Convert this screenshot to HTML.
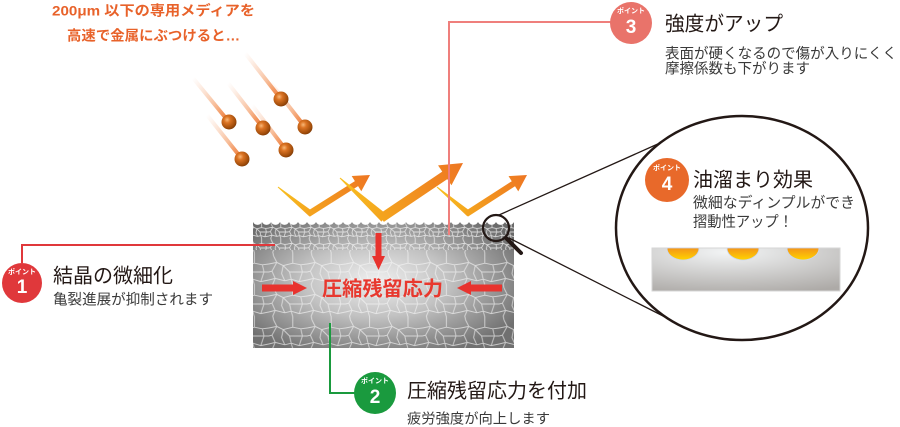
<!DOCTYPE html>
<html><head><meta charset="utf-8">
<style>
html,body{margin:0;padding:0;background:#fff;}
svg{display:block;}
text{font-family:"Liberation Sans","Noto Sans CJK JP",sans-serif;}
</style></head><body>
<svg width="900" height="427" viewBox="0 0 900 427" xmlns="http://www.w3.org/2000/svg">
<defs>
 <radialGradient id="blk" cx="0.47" cy="0.48" r="0.62">
  <stop offset="0" stop-color="#efefef"/>
  <stop offset="0.45" stop-color="#c2c2c2"/>
  <stop offset="1" stop-color="#707070"/>
 </radialGradient>
 <pattern id="cells" width="48" height="40" patternUnits="userSpaceOnUse" patternTransform="scale(0.8)">
  <path d="M0,10 L10,8 L18,12 L30,9 L40,11 L48,10 M0,30 L8,28 L20,31 L28,29 L38,32 L48,30 M18,12 L16,22 L20,31 M40,11 L42,20 L38,32 M18,12 L26,20 L28,29 M26,20 L42,20 M30,0 L30,9 M28,29 L30,36 L30,40 M6,0 L10,8 M8,28 L5,35 L6,40 M0,20 L4,19 L8,28 M42,20 L48,20 M4,19 L10,8" fill="none" stroke="#f6f6f6" stroke-opacity="0.65" stroke-width="1.2"/>
 </pattern>
 <pattern id="fine" width="48" height="40" patternUnits="userSpaceOnUse" patternTransform="scale(0.4)">
  <path d="M0,10 L10,8 L18,12 L30,9 L40,11 L48,10 M0,30 L8,28 L20,31 L28,29 L38,32 L48,30 M18,12 L16,22 L20,31 M40,11 L42,20 L38,32 M18,12 L26,20 L28,29 M26,20 L42,20 M30,0 L30,9 M28,29 L30,36 L30,40 M6,0 L10,8 M8,28 L5,35 L6,40 M0,20 L4,19 L8,28 M42,20 L48,20 M4,19 L10,8" fill="none" stroke="#f4f4f4" stroke-opacity="0.75" stroke-width="2.2"/>
 </pattern>
 <clipPath id="blkclip">
  <path d="M253,348 L253,222 A5,5 0 0 0 262,222 A5,5 0 0 0 271,222 A5,5 0 0 0 280,222 A5,5 0 0 0 289,222 A5,5 0 0 0 298,222 A5,5 0 0 0 307,222 A5,5 0 0 0 316,222 A5,5 0 0 0 325,222 A5,5 0 0 0 334,222 A5,5 0 0 0 343,222 A5,5 0 0 0 352,222 A5,5 0 0 0 361,222 A5,5 0 0 0 370,222 A5,5 0 0 0 379,222 A5,5 0 0 0 388,222 A5,5 0 0 0 397,222 A5,5 0 0 0 406,222 A5,5 0 0 0 415,222 A5,5 0 0 0 424,222 A5,5 0 0 0 433,222 A5,5 0 0 0 442,222 A5,5 0 0 0 451,222 A5,5 0 0 0 460,222 A5,5 0 0 0 469,222 A5,5 0 0 0 478,222 A5,5 0 0 0 487,222 A5,5 0 0 0 496,222 A5,5 0 0 0 505,222 A5,5 0 0 0 514,222 L514,348 Z"/>
 </clipPath>
 <radialGradient id="ball" cx="0.38" cy="0.35" r="0.7">
  <stop offset="0" stop-color="#f8b878"/>
  <stop offset="0.3" stop-color="#dc7424"/>
  <stop offset="0.8" stop-color="#a04c0a"/>
  <stop offset="1" stop-color="#7a3806"/>
 </radialGradient>
 <linearGradient id="trail" x1="0" y1="0" x2="1" y2="1">
  <stop offset="0" stop-color="#f7b08a" stop-opacity="0"/>
  <stop offset="0.6" stop-color="#f18a4a" stop-opacity="0.55"/>
  <stop offset="1" stop-color="#ec6a1e" stop-opacity="1"/>
 </linearGradient>
 <linearGradient id="legA" x1="0" y1="0" x2="1" y2="0">
  <stop offset="0" stop-color="#f8c020"/>
  <stop offset="1" stop-color="#f4a41e"/>
 </linearGradient>
 <linearGradient id="legB" x1="0" y1="0" x2="1" y2="0">
  <stop offset="0" stop-color="#f4a41e"/>
  <stop offset="1" stop-color="#ee7622"/>
 </linearGradient>
 <radialGradient id="inner" cx="0.4" cy="0.1" r="1">
  <stop offset="0" stop-color="#f2f4f5"/>
  <stop offset="1" stop-color="#adaaa7"/>
 </radialGradient>
 <linearGradient id="dimple" x1="0" y1="0" x2="0" y2="1">
  <stop offset="0" stop-color="#f39418"/>
  <stop offset="1" stop-color="#ffd400"/>
 </linearGradient>
</defs>

<!-- top orange caption -->
<text x="153.5" y="15.5" font-size="14" font-weight="bold" fill="#e8622a" text-anchor="middle" textLength="203" lengthAdjust="spacingAndGlyphs">200μm 以下の専用メディアを</text>
<text x="153.5" y="40.5" font-size="14" font-weight="bold" fill="#e8622a" text-anchor="middle" textLength="173" lengthAdjust="spacingAndGlyphs">高速で金属にぶつけると…</text>

<!-- trails -->
<g stroke="url(#trail)" stroke-width="4" stroke-linecap="round">
 <line x1="193" y1="78" x2="229" y2="122"/>
 <line x1="228" y1="83" x2="263" y2="128"/>
 <line x1="245" y1="53" x2="281" y2="99"/>
 <line x1="270" y1="82" x2="305" y2="127"/>
 <line x1="252" y1="105" x2="286" y2="150"/>
 <line x1="207" y1="115" x2="242" y2="159"/>
</g>
<g fill="url(#ball)">
 <circle cx="229" cy="122" r="7.5"/>
 <circle cx="263" cy="128" r="7.5"/>
 <circle cx="281" cy="99" r="7.5"/>
 <circle cx="305" cy="127" r="7.5"/>
 <circle cx="286" cy="150" r="7.5"/>
 <circle cx="242" cy="159" r="7.5"/>
</g>

<!-- zigzag arrows -->
<g>
 <polygon transform="translate(278,187) rotate(39.1)" points="0,-0.5 43,-3 43,3 0,0.5" fill="url(#legA)"/>
 <polygon transform="translate(310,213) rotate(-32.3)" points="-2,-3 55,-3 55,-9 71,0 55,9 55,3 -2,3" fill="url(#legB)"/>
 <polygon transform="translate(340,178) rotate(42.2)" points="0,-0.5 60,-4.5 60,4.5 0,0.5" fill="url(#legA)"/>
 <polygon transform="translate(383,217) rotate(-34)" points="-2,-4.5 74.5,-4.5 74.5,-12 96.5,0 74.5,12 74.5,4.5 -2,4.5" fill="url(#legB)"/>
 <polygon transform="translate(437,187) rotate(40)" points="0,-0.5 42,-3 42,3 0,0.5" fill="url(#legA)"/>
 <polygon transform="translate(468,213) rotate(-32.8)" points="-2,-3 54,-3 54,-9 70.2,0 54,9 54,3 -2,3" fill="url(#legB)"/>
</g>

<!-- block -->
<g clip-path="url(#blkclip)">
 <rect x="253" y="218" width="261" height="130" fill="url(#blk)"/>
 <rect x="253" y="250" width="261" height="98" fill="url(#cells)"/>
 <rect x="253" y="218" width="261" height="32" fill="#000" fill-opacity="0.05"/>
 <rect x="253" y="218" width="261" height="32" fill="url(#fine)"/>
</g>

<!-- red arrows in block -->
<g fill="#e8332e">
 <polygon points="375.5,233 381.5,233 381.5,256 385,256 378.5,270 372,256 375.5,256"/>
 <polygon points="262,284.5 293,284.5 293,281 307,288 293,295 293,291.5 262,291.5"/>
 <polygon points="502,284.5 471,284.5 471,281 457,288 471,295 471,291.5 502,291.5"/>
</g>
<text x="322" y="295.6" font-size="20" font-weight="bold" fill="#e8382e" textLength="121" lengthAdjust="spacingAndGlyphs">圧縮残留応力</text>

<!-- connectors -->
<polyline points="22,263 22,245 275,245" fill="none" stroke="#e0383b" stroke-width="2"/>
<polyline points="449,235 449,22 612,22" fill="none" stroke="#ef7f7c" stroke-width="2"/>
<polyline points="330,323 330,393 356,393" fill="none" stroke="#1a9a3e" stroke-width="2"/>

<!-- magnifier & zoom lines -->
<line x1="499" y1="215" x2="660" y2="143" stroke="#231815" stroke-width="1.3"/>
<line x1="509" y1="238" x2="669" y2="319" stroke="#231815" stroke-width="1.3"/>
<circle cx="496" cy="228" r="13" fill="none" stroke="#231815" stroke-width="2.2"/>
<line x1="506" y1="238" x2="521" y2="253" stroke="#231815" stroke-width="4" stroke-linecap="round"/>

<!-- big ellipse -->
<ellipse cx="742" cy="228" rx="126" ry="112" fill="#fff" stroke="#231815" stroke-width="2.5"/>
<rect x="652" y="248" width="188" height="43" fill="url(#inner)" stroke="#d6d6d6" stroke-width="1"/>
<g fill="url(#dimple)" stroke="#c9d6ee" stroke-width="0.8">
 <path d="M667,248 A16,12 0 0 0 699,248 Z"/>
 <path d="M727,248 A16,12 0 0 0 759,248 Z"/>
 <path d="M787,248 A16,12 0 0 0 819,248 Z"/>
</g>

<!-- badges -->
<g>
 <circle cx="22" cy="283" r="20" fill="#e0383b"/>
 <text x="22" y="274" font-size="7" font-weight="bold" fill="#fff" text-anchor="middle">ポイント</text>
 <text x="22" y="293" font-size="19" font-weight="bold" fill="#fff" text-anchor="middle">1</text>

 <circle cx="375" cy="393" r="21" fill="#1a9a3e"/>
 <text x="375" y="383" font-size="7" font-weight="bold" fill="#fff" text-anchor="middle">ポイント</text>
 <text x="375" y="403" font-size="19" font-weight="bold" fill="#fff" text-anchor="middle">2</text>

 <circle cx="631" cy="23" r="21" fill="#e9736a"/>
 <text x="631" y="13" font-size="7" font-weight="bold" fill="#fff" text-anchor="middle">ポイント</text>
 <text x="631" y="33" font-size="19" font-weight="bold" fill="#fff" text-anchor="middle">3</text>

 <circle cx="667" cy="180" r="22" fill="#e8692a"/>
 <text x="667" y="170" font-size="7" font-weight="bold" fill="#fff" text-anchor="middle">ポイント</text>
 <text x="667" y="190" font-size="19" font-weight="bold" fill="#fff" text-anchor="middle">4</text>
</g>

<!-- labels -->
<g fill="#231815">
 <text x="53" y="282.6" font-size="20" textLength="120" lengthAdjust="spacingAndGlyphs">結晶の微細化</text>
 <text x="53" y="304.5" font-size="14.5" fill="#3a3a3a" textLength="160" lengthAdjust="spacingAndGlyphs">亀裂進展が抑制されます</text>

 <text x="407" y="397.6" font-size="20" textLength="180" lengthAdjust="spacingAndGlyphs">圧縮残留応力を付加</text>
 <text x="407" y="423.5" font-size="14.3" fill="#3a3a3a" textLength="143" lengthAdjust="spacingAndGlyphs">疲労強度が向上します</text>

 <text x="665" y="30.6" font-size="20" textLength="118" lengthAdjust="spacingAndGlyphs">強度がアップ</text>
 <text x="665" y="58.5" font-size="14.5" fill="#3a3a3a" textLength="232" lengthAdjust="spacingAndGlyphs">表面が硬くなるので傷が入りにくく</text>
 <text x="665" y="73.5" font-size="14.5" fill="#3a3a3a" textLength="145" lengthAdjust="spacingAndGlyphs">摩擦係数も下がります</text>

 <text x="693" y="186.6" font-size="20" textLength="120" lengthAdjust="spacingAndGlyphs">油溜まり効果</text>
 <text x="693" y="207.5" font-size="14.7" fill="#3a3a3a" textLength="162" lengthAdjust="spacingAndGlyphs">微細なディンプルができ</text>
 <text x="693" y="226.5" font-size="14.7" fill="#3a3a3a" textLength="100" lengthAdjust="spacingAndGlyphs">摺動性アップ！</text>
</g>
</svg>
</body></html>
